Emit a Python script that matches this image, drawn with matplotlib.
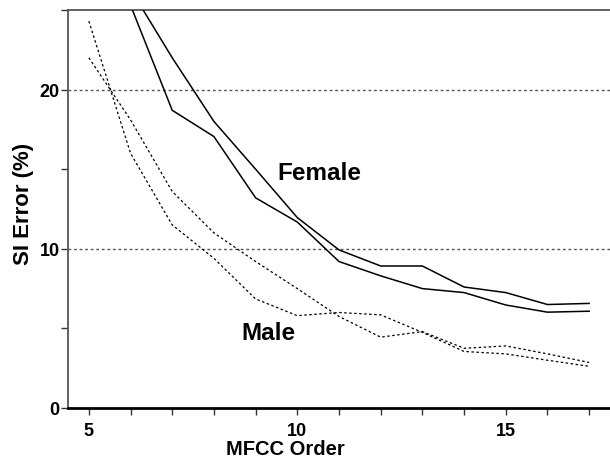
import matplotlib
matplotlib.use("Agg")
import matplotlib.pyplot as plt
from matplotlib.ticker import MultipleLocator

plt.rcParams['font.family'] = ['Liberation Sans', 'DejaVu Sans']

# Data
order_f = [6, 7, 8, 9, 10, 11, 12, 13, 14, 15, 16, 17]
female_a = [26.3, 22.0, 18.0, 15.0, 11.96, 9.93, 8.92, 8.92, 7.6, 7.25, 6.5, 6.57]
female_b = [25.3, 18.7, 17.05, 13.2, 11.68, 9.2, 8.3, 7.5, 7.25, 6.47, 6.02, 6.08]

order_m = [5, 6, 7, 8, 9, 10, 11, 12, 13, 14, 15, 16, 17]
male_a = [24.3, 16.0, 11.5, 9.4, 6.85, 5.8, 6.0, 5.85, 4.75, 3.55, 3.4, 3.0, 2.62]
male_b = [22.0, 18.1, 13.6, 11.0, 9.2, 7.5, 5.75, 4.45, 4.8, 3.75, 3.9, 3.4, 2.86]

x_ticks = [5, 10, 15]
y_ticks = [0, 10, 20]

fig = plt.figure(figsize=(6.1, 4.6), dpi=100)
ax = fig.add_axes([68/610, 51/460, 1 - 68/610, (409-11)/460])

for yv in [10, 20]:
    ax.axhline(yv, color='#555555', lw=1.0, ls=(0, (2, 2)), zorder=1)

ax.plot(order_f, female_a, color='black', lw=1.1, zorder=3)
ax.plot(order_f, female_b, color='black', lw=1.1, zorder=3)
ax.plot(order_m, male_a, color='black', lw=0.9, ls=(0, (2, 2)), zorder=3)
ax.plot(order_m, male_b, color='black', lw=0.9, ls=(0, (2, 2)), zorder=3)

ax.set_xlim(4.5, 17.5)
ax.set_ylim(0, 25)
ax.set_xticks(x_ticks)
ax.set_yticks(y_ticks)
ax.xaxis.set_minor_locator(MultipleLocator(1))
ax.yaxis.set_minor_locator(MultipleLocator(5))
ax.tick_params(which='both', direction='out', length=5, width=1.0, color='#333333')
ax.tick_params(axis='both', which='major', labelsize=13)
ax.tick_params(axis='x', which='major', pad=5)
ax.tick_params(axis='y', which='major', pad=1)
for lab in ax.get_xticklabels() + ax.get_yticklabels():
    lab.set_fontweight('bold')

ax.spines['right'].set_visible(False)
ax.spines['top'].set_color('#555555')
ax.spines['top'].set_linewidth(1.3)
ax.spines['left'].set_color('#555555')
ax.spines['left'].set_linewidth(1.3)
ax.spines['bottom'].set_color('black')
ax.spines['bottom'].set_linewidth(2.0)

ax.set_xlabel('MFCC Order', fontsize=14.5, fontweight='bold', va='center')
ax.xaxis.set_label_coords(0.401, -0.101)
ax.set_ylabel('SI Error (%)', fontsize=16, fontweight='bold', va='center')
ax.yaxis.set_label_coords(-0.083, 0.516)

ax.text(10.52, 14.8, 'Female', fontsize=17.5, fontweight='bold', ha='center', va='center')
ax.text(9.31, 4.73, 'Male', fontsize=17.5, fontweight='bold', ha='center', va='center')

fig.savefig('out.png', dpi=100)
